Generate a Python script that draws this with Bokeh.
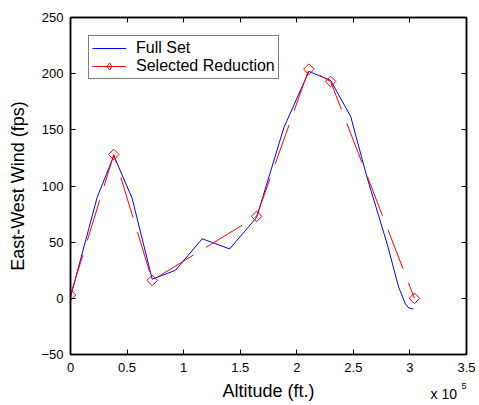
from bokeh.plotting import figure
from bokeh.models import (ColumnDataSource, LinearAxis, FixedTicker, Range1d,
                          Legend, LegendItem, Label, CustomJSTickFormatter)
from bokeh.embed import file_html
from bokeh.resources import INLINE
import numpy as np

# ---- data (altitude in ft, wind in fps) ----
alt_full = [0, 23600, 38300, 54500, 72200, 92800, 116400, 140600, 164500,
            188600, 210700, 229900, 247600, 262000, 280000, 290000, 296000,
            299000, 303000]
wind_full = [1, 90, 127, 89, 17, 25, 53, 44, 72,
             152, 202, 194, 162, 108, 48, 10, -5,
             -8.5, -9.5]

alt_sel = [0, 38300, 72200, 164500, 210700, 229900, 304000]
wind_sel = [3, 128, 16, 73, 204, 193, 0]

x_ticks = [0, 50000, 100000, 150000, 200000, 250000, 300000, 350000]
x_tick_labels = ["0", "0.5", "1", "1.5", "2", "2.5", "3", "3.5"]
y_ticks = [-50, 0, 50, 100, 150, 200, 250]

FONT = "Liberation Sans"

p = figure(width=479, height=405, output_backend="svg", toolbar_location=None,
           x_range=Range1d(0, 350000), y_range=Range1d(-50, 250),
           min_border_left=70, min_border_right=13, min_border_top=17,
           min_border_bottom=51)
p.xgrid.visible = False
p.ygrid.visible = False
p.outline_line_color = "black"
p.outline_line_width = 1.5
p.background_fill_color = "white"
p.border_fill_color = "white"

src_full = ColumnDataSource(dict(x=alt_full, y=wind_full))
src_sel = ColumnDataSource(dict(x=alt_sel, y=wind_sel))

r_full = p.line("x", "y", source=src_full, line_color="#0000ff", line_width=1)
r_sel_line = p.line("x", "y", source=src_sel, line_color="#ff0000",
                    line_width=1, line_dash="42 15")
r_sel_mark = p.scatter("x", "y", source=src_sel, marker="square",
                       angle=np.pi / 4, size=7.5, line_color="#ff0000",
                       fill_color=None, line_width=1)
# hidden diamond renderer, used only for the legend sample
r_leg_mark = p.scatter("x", "y", source=src_sel, marker="diamond", size=13,
                       line_color="#ff0000", fill_color=None, line_width=1,
                       visible=False)

# bottom / left axes
xa = p.xaxis[0]
xa.ticker = FixedTicker(ticks=x_ticks)
xa.major_label_overrides = {t: l for t, l in zip(x_ticks, x_tick_labels)}
ya = p.yaxis[0]
ya.ticker = FixedTicker(ticks=y_ticks)
for ax in (xa, ya):
    ax.major_tick_in = 5
    ax.major_tick_out = 0
    ax.minor_tick_in = 0
    ax.minor_tick_out = 0
    ax.axis_line_color = "black"
    ax.axis_line_width = 1.5
    ax.major_tick_line_color = "black"
    ax.major_label_text_font = FONT
    ax.major_label_text_font_size = "13px"
    ax.major_label_text_color = "black"
    ax.axis_label_text_font = FONT
    ax.axis_label_text_font_size = "18px"
    ax.axis_label_text_font_style = "normal"
    ax.axis_label_text_color = "black"
xa.major_label_standoff = 8
ya.major_label_standoff = 7
xa.axis_label = "Altitude (ft.)"
xa.axis_label_standoff = 6
ya.axis_label = "East-West Wind (fps)"
ya.axis_label_standoff = 10

# top / right axes for box ticks (no labels)
blank = CustomJSTickFormatter(code="return ''")
top = LinearAxis(ticker=FixedTicker(ticks=x_ticks), formatter=blank)
right = LinearAxis(ticker=FixedTicker(ticks=y_ticks), formatter=blank)
for ax in (top, right):
    ax.major_tick_in = 5
    ax.major_tick_out = 0
    ax.minor_tick_in = 0
    ax.minor_tick_out = 0
    ax.major_label_standoff = 0
    ax.axis_line_color = "black"
    ax.axis_line_width = 1.5
p.add_layout(top, "above")
p.add_layout(right, "right")

# exponent label: kept in small side panels (not clipped to the frame),
# drawn at canvas positions below the x axis
p.add_layout(Label(x=430, y=393, x_units="canvas", y_units="canvas",
                   text="x 10", text_font=FONT, text_font_size="14px",
                   text_color="black", text_baseline="middle"), "above")
p.add_layout(Label(x=461, y=385, x_units="canvas", y_units="canvas",
                   text="5", text_font=FONT, text_font_size="9px",
                   text_color="black", text_baseline="middle"), "right")

legend = Legend(items=[
    LegendItem(label="Full Set", renderers=[r_full]),
    LegendItem(label="Selected Reduction", renderers=[r_sel_line, r_leg_mark]),
], location="top_left")
legend.margin = 18
legend.padding = 3
legend.spacing = 0
legend.label_standoff = 10
legend.glyph_width = 34
legend.glyph_height = 18
legend.label_height = 18
legend.label_text_font = FONT
legend.label_text_font_size = "16px"
legend.label_text_color = "black"
legend.border_line_color = "black"
legend.border_line_width = 1
legend.background_fill_alpha = 1
p.add_layout(legend, "center")

open("out.html", "w").write(file_html(p, INLINE))
